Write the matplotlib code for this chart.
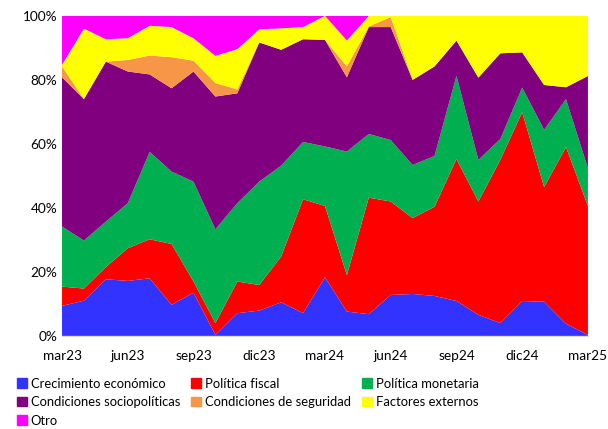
import matplotlib
matplotlib.use("Agg")
import matplotlib.pyplot as plt
import numpy as np
from matplotlib.patches import Patch

plt.rcParams['font.family'] = ['Lato', 'DejaVu Sans']

months = ['mar23', 'abr23', 'may23', 'jun23', 'jul23', 'ago23', 'sep23', 'oct23', 'nov23',
          'dic23', 'ene24', 'feb24', 'mar24', 'abr24', 'may24', 'jun24', 'jul24', 'ago24',
          'sep24', 'oct24', 'nov24', 'dic24', 'ene25', 'feb25', 'mar25']

crecimiento = [9.4, 11.0, 17.7, 17.2, 18.0, 9.7, 13.5, 0.3, 7.1, 7.9, 10.5, 7.1, 18.3,
               7.6, 6.8, 12.8, 13.1, 12.5, 10.9, 6.6, 4.0, 10.9, 10.7, 3.8, 0.3]
fiscal = [6.0, 3.8, 3.8, 10.2, 12.2, 19.0, 3.5, 3.7, 9.9, 8.0, 14.3, 35.6, 22.3,
          11.4, 36.4, 29.2, 23.7, 27.9, 44.3, 35.4, 51.0, 59.0, 35.8, 55.2, 40.3]
monetaria = [18.8, 15.0, 14.2, 14.1, 27.3, 22.6, 31.2, 29.3, 24.5, 32.3, 28.4, 17.9, 18.6,
             38.6, 19.9, 19.2, 16.6, 15.9, 26.0, 13.0, 6.5, 7.7, 17.9, 15.0, 11.8]
sociopoliticas = [46.6, 44.2, 50.0, 41.2, 24.2, 26.0, 34.4, 41.5, 34.3, 43.5, 36.2, 32.1, 33.3,
                  23.2, 33.4, 35.3, 26.6, 28.0, 11.0, 25.7, 26.8, 11.0, 14.0, 3.7, 28.9]
seguridad = [3.4, 0.0, 0.0, 3.6, 5.9, 9.7, 3.4, 4.2, 1.2, 0.0, 0.0, 0.0, 0.0,
             3.4, 0.2, 3.1, 0.0, 0.0, 0.0, 0.0, 0.0, 0.0, 0.0, 0.0, 0.0]
externos = [0.5, 22.0, 7.0, 6.8, 9.3, 9.4, 7.0, 8.5, 12.6, 4.1, 6.7, 3.8, 7.5,
            8.1, 3.3, 0.4, 20.0, 15.8, 7.7, 19.3, 11.7, 11.4, 21.6, 22.3, 18.8]
otro = [15.3, 4.0, 7.3, 7.0, 3.1, 3.5, 7.0, 12.5, 10.4, 4.2, 3.9, 3.5, 0.0,
        7.7, 0.0, 0.0, 0.0, 0.0, 0.0, 0.0, 0.0, 0.0, 0.0, 0.0, 0.0]

labels = ['Crecimiento económico', 'Política fiscal', 'Política monetaria',
          'Condiciones sociopolíticas', 'Condiciones de seguridad', 'Factores externos', 'Otro']
colors = ['#3333FF', '#FF0000', '#00B050', '#800080', '#F79646', '#FFFF00', '#FF00FF']

series = np.array([crecimiento, fiscal, monetaria, sociopoliticas, seguridad, externos, otro])
series = series / series.sum(axis=0) * 100

fig = plt.figure(figsize=(6.08, 4.29), dpi=100)
ax = fig.add_axes([0.102, 0.217, 0.865, 0.746])

x = np.arange(len(months))
ax.stackplot(x, series, colors=colors, linewidth=0)

ax.set_xlim(0, len(months) - 1)
ax.set_ylim(0, 100)
ax.set_xticks(x[::3])
ax.set_xticklabels(months[::3], fontsize=9.8)
ax.set_yticks(range(0, 101, 20))
ax.set_yticklabels([f'{v}%' for v in range(0, 101, 20)], fontsize=9.8)
ax.tick_params(length=0)
ax.tick_params(axis='x', pad=10)
for s in ['top', 'right', 'left']:
    ax.spines[s].set_visible(False)
ax.spines['bottom'].set_color('#d9d9d9')

handles = [Patch(color=c, label=l) for c, l in zip(colors, labels)]
order = [0, 3, 6, 1, 4, 2, 5]
fig.legend([handles[i] for i in order], [labels[i] for i in order],
           loc='upper left', bbox_to_anchor=(0.028, 0.12), ncol=3, frameon=False,
           fontsize=9.4, handlelength=0.75, handleheight=0.75, handletextpad=0.3,
           columnspacing=0.85, labelspacing=0.5, borderaxespad=0, borderpad=0)

fig.savefig('out.png', dpi=100)
